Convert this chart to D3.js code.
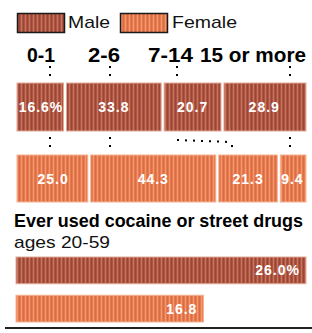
<!DOCTYPE html>
<html><head><meta charset="utf-8">
<script src="https://cdn.jsdelivr.net/npm/d3@7"></script>
<style>html,body{margin:0;padding:0;background:#fff}svg{display:block}</style>
</head><body><div id="chart"></div>
<script>
const ageGroups = ["0-1", "2-6", "7-14", "15 or more"];
const maleShares = [16.6, 33.8, 20.7, 28.9];
const femaleShares = [25.0, 44.3, 21.3, 9.4];
const everUsedGroups = ["Male", "Female"];
const everUsedValues = [26.0, 16.8];
const titleText = "Ever used cocaine or street drugs";
const subtitleText = "ages 20-59";

const W = 312, H = 333;
const svg = d3.select("#chart").append("svg").attr("width", W).attr("height", H);
const defs = svg.append("defs");
function stripes(id, base, light, dark) {
  const p = defs.append("pattern").attr("id", id).attr("patternUnits", "userSpaceOnUse")
    .attr("width", 4).attr("height", 4);
  p.append("rect").attr("width", 4).attr("height", 4).attr("fill", base);
  p.append("rect").attr("x", 1).attr("width", 1).attr("height", 4).attr("fill", light);
  p.append("rect").attr("x", 3).attr("width", 1).attr("height", 4).attr("fill", dark);
}
stripes("pm", "#ae5542", "#c67560", "#9a4636");
stripes("pf", "#e97a4e", "#f29a6a", "#d96c48");
const fills = {Male: "url(#pm)", Female: "url(#pf)"};

const font = "'Liberation Sans', Arial, sans-serif";

// Legend
const legend = [{k: "Male", x: 17, tx: 68, tw: 42}, {k: "Female", x: 120, tx: 172, tw: 65}];
legend.forEach(l => {
  svg.append("rect").attr("x", l.x + 0.5).attr("y", 13.5).attr("width", 47).attr("height", 19)
    .attr("fill", fills[l.k]).attr("stroke", "#1a1a1a").attr("stroke-width", 1.5);
  svg.append("text").attr("x", l.tx).attr("y", 28).attr("font-family", font).attr("font-size", 17)
    .attr("textLength", l.tw).attr("lengthAdjust", "spacingAndGlyphs").attr("fill", "#111").text(l.k);
});

// Share bars
const x = d3.scaleLinear().domain([0, 100]).range([17, 306]);
function segs(vals) {
  let c = 0;
  return vals.map((v, i) => { const s = c; c += v; return {i, v, s, e: c}; });
}
const headerPos = [{x: 27, w: 28}, {x: 88, w: 32}, {x: 148, w: 45}, {x: 200, w: 106}];
svg.selectAll("text.hdr").data(ageGroups).enter().append("text").attr("class", "hdr")
  .attr("x", (d, i) => headerPos[i].x).attr("y", 62).attr("font-family", font)
  .attr("font-weight", "bold").attr("font-size", 20)
  .attr("textLength", (d, i) => headerPos[i].w).attr("lengthAdjust", "spacingAndGlyphs")
  .attr("fill", "#000").text(d => d);

function drawRow(vals, key, y0, h, strokeCol) {
  const g = svg.append("g");
  const data = segs(vals);
  g.selectAll("rect").data(data).enter().append("rect")
    .attr("x", d => x(d.s) + (d.i > 0 ? 1.5 : 0))
    .attr("y", y0)
    .attr("width", d => x(d.e) - x(d.s) - (d.i > 0 ? 1.5 : 0) - (d.i < data.length - 1 ? 1.5 : 0))
    .attr("height", h)
    .attr("fill", fills[key]).attr("stroke", strokeCol).attr("stroke-width", 1);
  g.selectAll("text").data(data).enter().append("text")
    .attr("x", d => (x(d.s) + x(d.e)) / 2).attr("y", y0 + h / 2 + 5)
    .attr("text-anchor", "middle").attr("font-family", font).attr("font-weight", "bold")
    .attr("font-size", 14).attr("letter-spacing", 1).attr("fill", "#fff")
    .text(d => d.v.toFixed(1) + (d.i === 0 && key === "Male" ? "%" : ""));
}
drawRow(maleShares, "Male", 83, 48, "#e2a898");
drawRow(femaleShares, "Female", 155, 47, "#f5b294");

// Dotted leaders
const dot = {stroke: "#000", "stroke-width": 2, "stroke-dasharray": "2,6"};
function dl(pts) {
  const p = svg.append("path").attr("d", d3.line()(pts)).attr("fill", "none");
  Object.entries(dot).forEach(([k, v]) => p.attr(k, v));
}
[50, 110, 177, 290].forEach(px => dl([[px, 66], [px, 79]]));
[50, 110, 290].forEach(px => dl([[px, 137], [px, 153]]));
dl([[177, 140], [230, 142]]);
dl([[232, 145], [232, 153]]);

// Title
svg.append("text").attr("x", 14).attr("y", 227).attr("font-family", font).attr("font-weight", "bold")
  .attr("font-size", 18).attr("textLength", 289).attr("lengthAdjust", "spacingAndGlyphs")
  .attr("fill", "#000").text(titleText);
svg.append("text").attr("x", 14).attr("y", 248).attr("font-family", font)
  .attr("font-size", 17).attr("textLength", 96).attr("lengthAdjust", "spacingAndGlyphs")
  .attr("fill", "#111").text(subtitleText);

// Ever-used bars
const xb = d3.scaleLinear().domain([0, 26.0]).range([16, 306]);
const yb = d3.scaleBand().domain(everUsedGroups).range([257, 322]).paddingInner(0.3).paddingOuter(0);
svg.selectAll("rect.eu").data(everUsedGroups).enter().append("rect").attr("class", "eu")
  .attr("x", xb(0)).attr("y", d => yb(d)).attr("width", (d, i) => xb(everUsedValues[i]) - xb(0))
  .attr("height", yb.bandwidth()).attr("fill", d => fills[d])
  .attr("stroke", d => d === "Male" ? "#e2a898" : "#f5b294").attr("stroke-width", 1);
svg.selectAll("text.eu").data(everUsedGroups).enter().append("text").attr("class", "eu")
  .attr("x", (d, i) => xb(everUsedValues[i]) - 6).attr("y", d => yb(d) + yb.bandwidth() / 2 + 5)
  .attr("text-anchor", "end").attr("font-family", font).attr("font-weight", "bold")
  .attr("font-size", 14).attr("letter-spacing", 1).attr("fill", "#fff")
  .text((d, i) => everUsedValues[i].toFixed(1) + (i === 0 ? "%" : ""));

// Bottom rule
svg.append("line").attr("x1", 5).attr("x2", 312).attr("y1", 328).attr("y2", 328)
  .attr("stroke", "#222").attr("stroke-width", 2);
</script></body></html>
